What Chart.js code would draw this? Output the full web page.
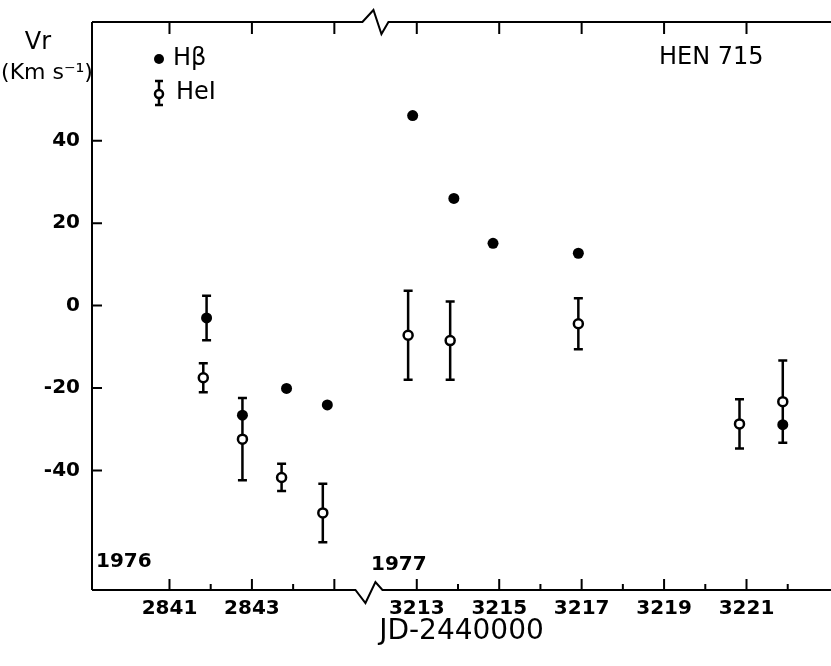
<!DOCTYPE html>
<html>
<head>
<meta charset="utf-8">
<title>HEN 715 radial velocities</title>
<script src="https://cdn.jsdelivr.net/npm/chart.js@4.4.1/dist/chart.umd.min.js"></script>
<style>
    html, body { margin: 0; padding: 0; background: #fff; }
    #wrap { width: 831px; height: 666px; }
</style>
</head>
<body>
<div id="wrap"><canvas id="vrChart" width="831" height="666"></canvas></div>
<script>
// H-beta velocities (filled dots)
const hbDays = [2841.9, 2842.77, 2843.84, 2844.83, 3212.9, 3213.9, 3214.85, 3216.92, 3221.88];
const hbVr   = [-3.0, -26.6, -20.1, -24.1, 46.1, 26.0, 15.1, 12.7, -28.9];
const hbErr  = [5.4, 0, 0, 0, 0, 0, 0, 0, 0];

// He I velocities (open circles with error bars)
const heDays = [2841.82, 2842.77, 2843.72, 2844.72, 3212.79, 3213.81, 3216.92, 3220.83, 3221.88];
const heVr   = [-17.5, -32.4, -41.7, -50.3, -7.2, -8.5, -4.4, -28.7, -23.3];
const heErr  = [3.5, 10.0, 3.3, 7.1, 10.8, 9.5, 6.2, 6.0, 10.0];

// axis ticks
const tickDays  = [2841, 2842, 2843, 2844, 2845, 3213, 3214, 3215, 3216, 3217, 3218, 3219, 3220, 3221, 3222];
const labelDays = [2841, 2843, 3213, 3215, 3217, 3219, 3221];
const yTicks    = [-40, -20, 0, 20, 40];

// the x axis is broken: days between the two seasons are cut out
const GAP = 366;
const BREAK_AT = 2845.9;
function toAxis(day) { return day > 3000 ? day - GAP : day; }
function toDay(v) { return Math.round(v > BREAK_AT ? v + GAP : v); }

const FONT = '"DejaVu Sans", sans-serif';

function points(days, vr, err) {
    return days.map((d, i) => ({ x: toAxis(d), y: vr[i], err: err[i] }));
}

// error bars go under the markers
const errorBars = {
    id: 'errorBars',
    beforeDatasetsDraw(chart) {
        const ctx = chart.ctx;
        const yScale = chart.scales.y;
        ctx.save();
        ctx.strokeStyle = '#000';
        ctx.lineWidth = 2.5;
        chart.data.datasets.forEach((ds, di) => {
            const meta = chart.getDatasetMeta(di);
            ds.data.forEach((p, i) => {
                if (!p.err) return;
                const x = meta.data[i].x;
                const y1 = yScale.getPixelForValue(p.y + p.err);
                const y2 = yScale.getPixelForValue(p.y - p.err);
                ctx.beginPath();
                ctx.moveTo(x, y1); ctx.lineTo(x, y2);
                ctx.moveTo(x - 4.5, y1); ctx.lineTo(x + 4.5, y1);
                ctx.moveTo(x - 4.5, y2); ctx.lineTo(x + 4.5, y2);
                ctx.stroke();
            });
        });
        ctx.restore();
    }
};

// frame with the break marks, inward ticks and the annotations
const frame = {
    id: 'frame',
    afterDraw(chart) {
        const ctx = chart.ctx;
        const { left, right, top, bottom } = chart.chartArea;
        const xs = chart.scales.x, ys = chart.scales.y;
        const bx = xs.getPixelForValue(BREAK_AT);

        ctx.save();
        ctx.strokeStyle = '#000';
        ctx.lineWidth = 2;
        ctx.lineJoin = 'miter';

        ctx.beginPath();
        // left axis
        ctx.moveTo(left, top); ctx.lineTo(left, bottom);
        // top axis with break
        ctx.moveTo(left, top);
        ctx.lineTo(bx - 9, top);
        ctx.lineTo(bx + 2, top - 12);
        ctx.lineTo(bx + 10, top + 12);
        ctx.lineTo(bx + 17, top);
        ctx.lineTo(right, top);
        // bottom axis with break
        ctx.moveTo(left, bottom);
        ctx.lineTo(bx - 16, bottom);
        ctx.lineTo(bx - 6, bottom + 13);
        ctx.lineTo(bx + 4, bottom - 8);
        ctx.lineTo(bx + 11, bottom);
        ctx.lineTo(right, bottom);
        ctx.stroke();

        // x ticks: bottom has majors and minors, top only majors
        ctx.beginPath();
        tickDays.forEach(d => {
            const px = xs.getPixelForValue(toAxis(d));
            const major = d % 2 === 1;
            ctx.moveTo(px, bottom);
            ctx.lineTo(px, bottom - (major ? 11 : 6));
            if (major) {
                ctx.moveTo(px, top);
                ctx.lineTo(px, top + 12);
            }
        });
        // y ticks
        yTicks.forEach(v => {
            const py = ys.getPixelForValue(v);
            ctx.moveTo(left, py);
            ctx.lineTo(left + 10, py);
        });
        ctx.stroke();

        // texts
        ctx.fillStyle = '#000';
        ctx.textBaseline = 'middle';
        ctx.textAlign = 'center';
        ctx.font = '24px ' + FONT;
        ctx.fillText('Vr', 38, 43);
        ctx.font = '22px ' + FONT;
        ctx.fillText('(Km s\u207B\u00B9)', 47, 73);

        ctx.textAlign = 'left';
        ctx.font = '24px ' + FONT;
        ctx.fillText('HEN 715', 659, 58);

        ctx.font = 'bold 20px ' + FONT;
        ctx.fillText('1976', 96, 562);
        ctx.fillText('1977', 371, 565);

        // legend
        ctx.font = '24px ' + FONT;
        ctx.beginPath();
        ctx.arc(159, 59, 5, 0, Math.PI * 2);
        ctx.fill();
        ctx.fillText('H\u03B2', 173, 59);

        ctx.lineWidth = 2.5;
        ctx.beginPath();
        ctx.moveTo(159, 81); ctx.lineTo(159, 105);
        ctx.moveTo(155, 81); ctx.lineTo(163, 81);
        ctx.moveTo(155, 105); ctx.lineTo(163, 105);
        ctx.stroke();
        ctx.beginPath();
        ctx.arc(159, 94, 4, 0, Math.PI * 2);
        ctx.fillStyle = '#fff';
        ctx.fill();
        ctx.stroke();
        ctx.fillStyle = '#000';
        ctx.fillText('HeI', 176, 93);

        ctx.restore();
    }
};

const ctx = document.getElementById('vrChart').getContext('2d');
new Chart(ctx, {
    type: 'scatter',
    data: {
        datasets: [
            {
                label: 'H\u03B2',
                data: points(hbDays, hbVr, hbErr),
                pointRadius: 5.5,
                pointBackgroundColor: '#000',
                pointBorderWidth: 0,
                showLine: false,
                clip: false
            },
            {
                label: 'HeI',
                data: points(heDays, heVr, heErr),
                pointRadius: 4.5,
                pointBackgroundColor: '#fff',
                pointBorderColor: '#000',
                pointBorderWidth: 2.5,
                showLine: false,
                clip: false
            }
        ]
    },
    options: {
        responsive: false,
        animation: false,
        devicePixelRatio: 1,
        layout: { autoPadding: false, padding: { top: 22, right: 0, left: 0, bottom: 0 } },
        plugins: {
            legend: { display: false },
            tooltip: { enabled: false }
        },
        scales: {
            x: {
                type: 'linear',
                min: 2839.12,
                max: 2857.05,
                grid: { display: false, drawTicks: false },
                border: { display: false },
                afterBuildTicks: scale => {
                    scale.ticks = tickDays.map(d => ({ value: toAxis(d) }));
                },
                afterFit: scale => {
                    scale.height = 76;
                    scale.paddingLeft = 0;
                    scale.paddingRight = 0;
                },
                ticks: {
                    autoSkip: false,
                    maxRotation: 0,
                    padding: 7,
                    color: '#000',
                    font: { family: FONT, size: 20, weight: 'bold' },
                    callback: v => labelDays.includes(toDay(v)) ? String(toDay(v)) : ''
                },
                title: {
                    display: true,
                    text: 'JD-2440000',
                    color: '#000',
                    font: { family: FONT, size: 28 },
                    padding: 17
                }
            },
            y: {
                min: -69,
                max: 68.8,
                grid: { display: false, drawTicks: false },
                border: { display: false },
                afterBuildTicks: scale => {
                    scale.ticks = yTicks.map(v => ({ value: v }));
                },
                afterFit: scale => {
                    scale.width = 92;
                    scale.paddingTop = 0;
                    scale.paddingBottom = 0;
                },
                ticks: {
                    padding: 12,
                    color: '#000',
                    font: { family: FONT, size: 20, weight: 'bold' }
                }
            }
        }
    },
    plugins: [errorBars, frame]
});
</script>
</body>
</html>
